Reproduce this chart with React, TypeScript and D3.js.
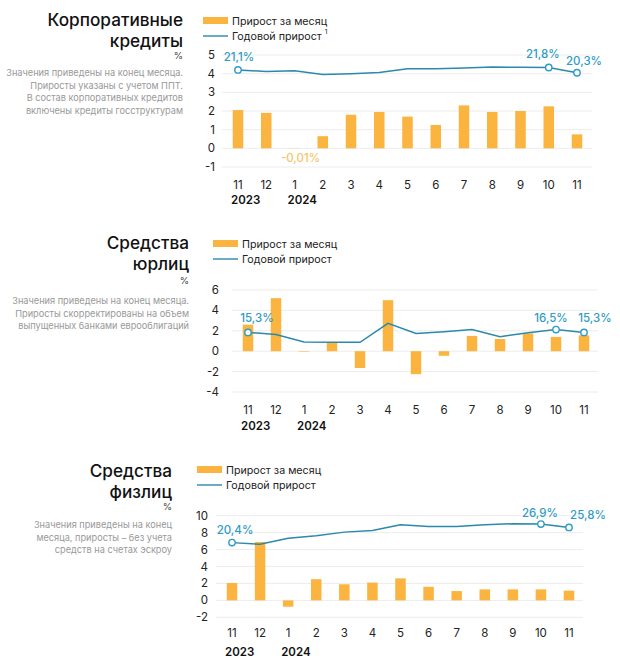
import React from "react";
import * as d3 from "d3";

const months = ["11", "12", "1", "2", "3", "4", "5", "6", "7", "8", "9", "10", "11"];
const yearLabels = ["2023", "2024"];
const yearIdx = [0, 2];

const corpMonthly = [2.05, 1.9, -0.01, 0.65, 1.8, 1.95, 1.7, 1.25, 2.3, 1.95, 2.0, 2.25, 0.75];
const corpAnnual = [4.2, 4.12, 4.16, 3.95, 4.0, 4.06, 4.26, 4.26, 4.3, 4.36, 4.34, 4.33, 4.05];
const corpTicks = [-1, 0, 1, 2, 3, 4, 5];
const corpLabelIdx = [0, 11, 12];
const corpLabelText = ["21,1%", "21,8%", "20,3%"];

const jurMonthly = [2.6, 5.2, -0.05, 0.85, -1.65, 5.0, -2.25, -0.45, 1.5, 1.2, 1.75, 1.4, 1.55];
const jurAnnual = [1.84, 1.64, 0.9, 0.87, 0.87, 2.73, 1.74, 1.9, 2.12, 1.42, 1.8, 2.12, 1.84];
const jurTicks = [-4, -2, 0, 2, 4, 6];
const jurLabelIdx = [0, 11, 12];
const jurLabelText = ["15,3%", "16,5%", "15,3%"];

const indMonthly = [2.05, 6.9, -0.75, 2.5, 1.9, 2.1, 2.6, 1.6, 1.1, 1.3, 1.3, 1.3, 1.15];
const indAnnual = [6.82, 6.63, 7.34, 7.62, 8.06, 8.25, 8.93, 8.73, 8.73, 8.93, 9.05, 9.01, 8.61];
const indTicks = [-2, 0, 2, 4, 6, 8, 10];
const indLabelIdx = [0, 11, 12];
const indLabelText = ["20,4%", "26,9%", "25,8%"];

const BAR = "#FBB440";
const LINE = "#2B89AB";
const LABEL = "#2E9CC4";
const FONT = "Inter, 'Noto Sans', sans-serif";

type PanelProps = {
  title: string[];
  notes: string[];
  titleRight: number;
  titleY: number;
  titleGap: number;
  pctDy: number;
  notesDy: number;
  legendX: number;
  legendY: number;
  sup?: string;
  monthly: number[];
  annual: number[];
  ticks: number[];
  labelIdx: number[];
  labelText: string[];
  labelDx: number[];
  labelDy: number[];
  x0: number;
  x1: number;
  gx0: number;
  gx1: number;
  yTop: number;
  yBottom: number;
  tickRight: number;
  xLabelY: number;
  yearY: number;
  negLabel?: { idx: number; text: string; dx: number; y: number };
};

function Panel(p: PanelProps) {
  const x = d3.scalePoint<number>().domain(months.map((_, i) => i)).range([p.x0, p.x1]);
  const y = d3
    .scaleLinear()
    .domain([p.ticks[0], p.ticks[p.ticks.length - 1]])
    .range([p.yBottom, p.yTop]);
  const line = d3
    .line<number>()
    .x((_, i) => x(i) as number)
    .y((d) => y(d));
  const bw = 10.5;
  return (
    <g fontFamily={FONT}>
      {p.title.map((t, i) => (
        <text
          key={i}
          x={p.titleRight}
          y={p.titleY + i * p.titleGap}
          textAnchor="end"
          fontSize={17.2}
          fontWeight={500}
          fill="#111"
        >
          {t}
        </text>
      ))}
      <text x={p.titleRight} y={p.titleY + p.pctDy} textAnchor="end" fontSize={9.5} fill="#444">
        %
      </text>
      {p.notes.map((t, i) => (
        <text
          key={i}
          x={p.titleRight}
          y={p.titleY + p.notesDy + i * 12.7}
          textAnchor="end"
          fontSize={9.2}
          fill="#999"
        >
          {t}
        </text>
      ))}
      {/* legend */}
      <rect x={p.legendX} y={p.legendY - 4} width={25} height={7} fill={BAR} />
      <text x={p.legendX + 29} y={p.legendY + 3.5} fontSize={10.7} fill="#222">
        Прирост за месяц
      </text>
      <line
        x1={p.legendX}
        x2={p.legendX + 25}
        y1={p.legendY + 15}
        y2={p.legendY + 15}
        stroke={LINE}
        strokeWidth={1.4}
      />
      <text x={p.legendX + 29} y={p.legendY + 18.5} fontSize={10.7} fill="#222">
        Годовой прирост
        {p.sup ? (
          <tspan dx={3} dy={-6} fontSize={6.5}>
            {p.sup}
          </tspan>
        ) : null}
      </text>
      {/* grid */}
      {p.ticks.map((t) => (
        <g key={t}>
          <line x1={p.gx0} x2={p.gx1} y1={y(t)} y2={y(t)} stroke="#ececec" strokeWidth={1} />
          <text
            x={p.tickRight}
            y={y(t) + 4}
            textAnchor="end"
            fontSize={11.5}
            fill="#222"
          >
            {t}
          </text>
        </g>
      ))}
      {/* bars */}
      {p.monthly.map((v, i) => (
        <rect
          key={i}
          x={(x(i) as number) - bw / 2}
          y={y(Math.max(0, v))}
          width={bw}
          height={Math.abs(y(v) - y(0))}
          fill={BAR}
        />
      ))}
      {/* line */}
      <path d={line(p.annual) || ""} fill="none" stroke={LINE} strokeWidth={1.5} />
      {p.labelIdx.map((idx, k) => (
        <g key={k}>
          <circle
            cx={x(idx) as number}
            cy={y(p.annual[idx])}
            r={3.2}
            fill="#fff"
            stroke={LABEL}
            strokeWidth={1.4}
          />
          <text
            x={(x(idx) as number) + p.labelDx[k]}
            y={y(p.annual[idx]) + p.labelDy[k]}
            textAnchor="middle"
            fontSize={11.5}
            fontWeight={500}
            fill={LABEL}
          >
            {p.labelText[k]}
          </text>
        </g>
      ))}
      {p.negLabel ? (
        <text
          x={(x(p.negLabel.idx) as number) + p.negLabel.dx}
          y={p.negLabel.y}
          textAnchor="middle"
          fontSize={11.5}
          fontWeight={500}
          fill="#F7C46A"
        >
          {p.negLabel.text}
        </text>
      ) : null}
      {/* x labels */}
      {months.map((m, i) => (
        <text
          key={i}
          x={x(i) as number}
          y={p.xLabelY}
          textAnchor="middle"
          fontSize={11.5}
          fill="#222"
        >
          {m}
        </text>
      ))}
      {yearLabels.map((yl, k) => (
        <text
          key={k}
          x={(x(yearIdx[k]) as number) - 7}
          y={p.yearY}
          fontSize={11.5}
          fontWeight={600}
          fill="#111"
        >
          {yl}
        </text>
      ))}
    </g>
  );
}

export default function App() {
  return (
    <svg
      width={620}
      height={660}
      style={{ position: "absolute", left: 0, top: 0, background: "#fff" }}
    >
      <rect width={620} height={660} fill="#fff" />
      <Panel
        title={["Корпоративные", "кредиты"]}
        notes={[
          "Значения приведены на конец месяца.",
          "Приросты указаны с учетом ППТ.",
          "В состав корпоративных кредитов",
          "включены кредиты госструктурам",
        ]}
        titleRight={183}
        titleY={26}
        titleGap={20.5}
        pctDy={33}
        notesDy={50}
        legendX={203}
        legendY={21}
        sup="1"
        monthly={corpMonthly}
        annual={corpAnnual}
        ticks={corpTicks}
        labelIdx={corpLabelIdx}
        labelText={corpLabelText}
        labelDx={[1, -6, 7]}
        labelDy={[-9, -10, -8]}
        x0={238}
        x1={577}
        gx0={222}
        gx1={592}
        yTop={55}
        yBottom={167}
        tickRight={215}
        xLabelY={189}
        yearY={204}
        negLabel={{ idx: 2, text: "-0,01%", dx: 6, y: 162 }}
      />
      <Panel
        title={["Средства", "юрлиц"]}
        notes={[
          "Значения приведены на конец месяца.",
          "Приросты скорректированы на объем",
          "выпущенных банками еврооблигаций",
        ]}
        titleRight={189}
        titleY={249}
        titleGap={21}
        pctDy={35}
        notesDy={55}
        legendX={213}
        legendY={244}
        monthly={jurMonthly}
        annual={jurAnnual}
        ticks={jurTicks}
        labelIdx={jurLabelIdx}
        labelText={jurLabelText}
        labelDx={[9, -5, 11]}
        labelDy={[-10, -8, -10]}
        x0={248}
        x1={584}
        gx0={232}
        gx1={598}
        yTop={290}
        yBottom={392}
        tickRight={219}
        xLabelY={414}
        yearY={430}
      />
      <Panel
        title={["Средства", "физлиц"]}
        notes={[
          "Значения приведены на конец",
          "месяца, приросты – без учета",
          "средств на счетах эскроу",
        ]}
        titleRight={172}
        titleY={477}
        titleGap={21}
        pctDy={33}
        notesDy={51}
        legendX={197}
        legendY={470}
        monthly={indMonthly}
        annual={indAnnual}
        ticks={indTicks}
        labelIdx={indLabelIdx}
        labelText={indLabelText}
        labelDx={[3, -1, 19]}
        labelDy={[-9, -7, -8]}
        x0={232}
        x1={569}
        gx0={216}
        gx1={583}
        yTop={515.7}
        yBottom={617.3}
        tickRight={208}
        xLabelY={637}
        yearY={656}
      />
    </svg>
  );
}
